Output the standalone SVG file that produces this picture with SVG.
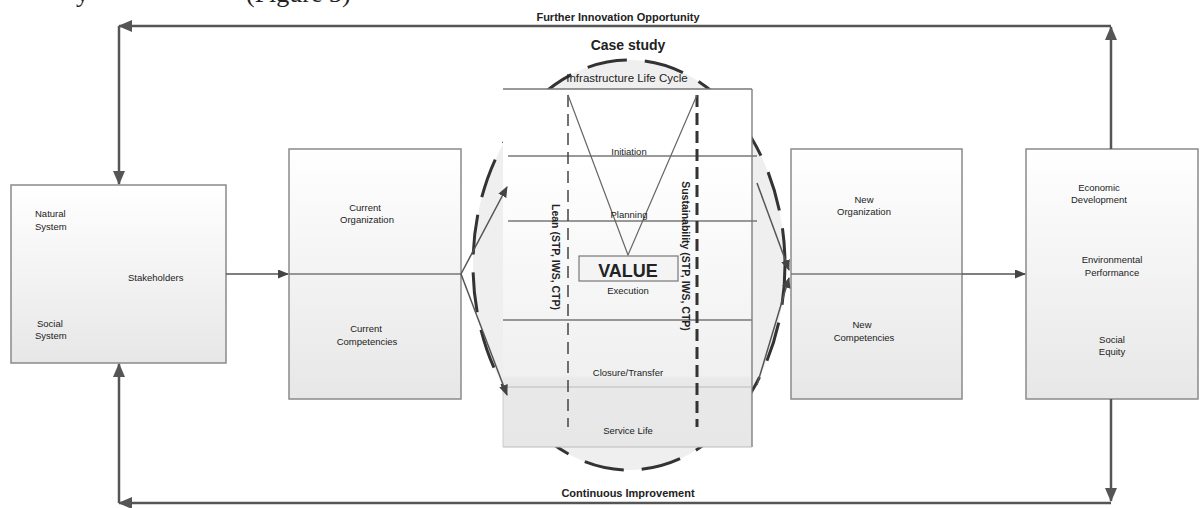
<svg xmlns="http://www.w3.org/2000/svg" width="1203" height="508" viewBox="0 0 1203 508">
<style>
.lbl{font-family:"Liberation Sans",Arial,sans-serif;font-size:9.5px;fill:#222}
.c{text-anchor:middle}
.bold{font-weight:bold}
.box{stroke:#8a8a8a;stroke-width:1.5;fill:url(#g)}
.con{stroke:#555;stroke-width:2.5;fill:none}
.thin{stroke:#555;stroke-width:1.5;fill:none}
.div{stroke:#777;stroke-width:1.3}
.page{font-family:"Liberation Serif",serif;font-size:26px;fill:#222}
</style>
<defs>
<linearGradient id="g" x1="0" y1="0" x2="0" y2="1">
<stop offset="0" stop-color="#ffffff"/><stop offset="0.5" stop-color="#f3f3f3"/><stop offset="1" stop-color="#e7e7e7"/>
</linearGradient>
<linearGradient id="g2" x1="0" y1="0" x2="0" y2="1">
<stop offset="0" stop-color="#ffffff"/><stop offset="0.2" stop-color="#ffffff"/><stop offset="0.8" stop-color="#f0f0f0"/><stop offset="0.81" stop-color="#e9e9e9"/><stop offset="1" stop-color="#e7e7e7"/>
</linearGradient>
<marker id="a" markerUnits="userSpaceOnUse" markerWidth="14" markerHeight="12" refX="13" refY="6" orient="auto">
<path d="M0,0 L14,6 L0,12 z" fill="#555"/>
</marker>
<marker id="as" markerUnits="userSpaceOnUse" markerWidth="11" markerHeight="9" refX="10" refY="4.5" orient="auto">
<path d="M0,0 L11,4.5 L0,9 z" fill="#444"/>
</marker>
</defs>
<rect width="1203" height="508" fill="#ffffff"/>
<text x="76" y="2" class="page">y</text>
<text x="246" y="2" class="page">(Figure 3)</text>

<g id="lifecycle">
<ellipse cx="629" cy="265" rx="156" ry="205" fill="#efefef" stroke="#333" stroke-width="3" stroke-dasharray="40 18"/>
<rect x="503" y="89" width="249" height="358" fill="url(#g2)"/>
<line x1="503" y1="89" x2="752" y2="89" class="div"/>
<line x1="752" y1="89" x2="752" y2="447" class="div"/>
<line x1="508" y1="156" x2="757" y2="156" class="div"/>
<line x1="508" y1="221" x2="757" y2="221" class="div"/>
<line x1="503" y1="320" x2="752" y2="320" class="div"/>
<line x1="503" y1="387" x2="752" y2="387" stroke="#bbb" stroke-width="1"/>
<line x1="503" y1="447" x2="752" y2="447" stroke="#bbb" stroke-width="1.2"/>
<line x1="503" y1="387" x2="503" y2="447" stroke="#ccc" stroke-width="1"/>
<line x1="568" y1="95" x2="568" y2="427" stroke="#444" stroke-width="1.5" stroke-dasharray="12 7"/>
<line x1="697" y1="95" x2="697" y2="427" stroke="#333" stroke-width="3" stroke-dasharray="12 6"/>
<polyline points="568,95 628,255 697,95" fill="none" stroke="#666" stroke-width="1.2"/>
<rect x="579" y="256" width="99" height="25" fill="#f4f4f4" stroke="#777" stroke-width="1.2"/>
<text x="628" y="50" class="lbl c bold" style="font-size:14px">Case study</text>
<text x="627" y="82" class="lbl c" style="font-size:11.5px">Infrastructure Life Cycle</text>
<text x="629" y="155" class="lbl c">Initiation</text>
<text x="629" y="218" class="lbl c">Planning</text>
<text x="628" y="277" class="lbl c bold" style="font-size:18px">VALUE</text>
<text x="628" y="294" class="lbl c">Execution</text>
<text x="628" y="376" class="lbl c">Closure/Transfer</text>
<text x="628" y="434" class="lbl c">Service Life</text>
<text transform="translate(552,257) rotate(90)" class="lbl c bold" style="font-size:10.5px">Lean (STP, IWS, CTP)</text>
<text transform="translate(682,256) rotate(90)" class="lbl c bold" style="font-size:10.5px">Sustainability (STP, IWS, CTP)</text>
</g>

<g id="stakeholders">
<rect x="11" y="185" width="215" height="178" class="box"/>
<text x="35" y="217" class="lbl">Natural</text>
<text x="35" y="230" class="lbl">System</text>
<text x="128" y="281" class="lbl">Stakeholders</text>
<text x="37" y="327" class="lbl">Social</text>
<text x="35" y="339" class="lbl">System</text>
</g>

<g id="current">
<rect x="289" y="149" width="172" height="250" class="box"/>
<line x1="289" y1="274" x2="461" y2="274" class="div"/>
<text x="365" y="211" class="lbl c">Current</text>
<text x="367" y="223" class="lbl c">Organization</text>
<text x="366" y="332" class="lbl c">Current</text>
<text x="367" y="345" class="lbl c">Competencies</text>
</g>

<g id="new">
<rect x="791" y="149" width="171" height="250" class="box"/>
<line x1="791" y1="274" x2="962" y2="274" class="div"/>
<text x="864" y="203" class="lbl c">New</text>
<text x="864" y="215" class="lbl c">Organization</text>
<text x="862" y="328" class="lbl c">New</text>
<text x="864" y="341" class="lbl c">Competencies</text>
</g>

<g id="outcomes">
<rect x="1026" y="149" width="172" height="250" class="box"/>
<text x="1099" y="191" class="lbl c">Economic</text>
<text x="1099" y="203" class="lbl c">Development</text>
<text x="1112" y="263" class="lbl c">Environmental</text>
<text x="1112" y="276" class="lbl c">Performance</text>
<text x="1112" y="343" class="lbl c">Social</text>
<text x="1112" y="355" class="lbl c">Equity</text>
</g>

<g id="connectors">
<line x1="1111" y1="149" x2="1111" y2="27" class="con" marker-end="url(#a)"/>
<line x1="1111" y1="26" x2="119" y2="26" class="con" marker-end="url(#a)"/>
<line x1="119" y1="26" x2="119" y2="184" class="con" marker-end="url(#a)"/>
<line x1="1111" y1="399" x2="1111" y2="501" class="con" marker-end="url(#a)"/>
<line x1="1111" y1="503" x2="119" y2="503" class="con" marker-end="url(#a)"/>
<line x1="119" y1="503" x2="119" y2="364" class="con" marker-end="url(#a)"/>
<line x1="226" y1="274" x2="288" y2="274" class="thin" marker-end="url(#as)"/>
<line x1="962" y1="274" x2="1025" y2="274" class="thin" marker-end="url(#as)"/>
<line x1="461" y1="274" x2="507" y2="187" class="thin" marker-end="url(#as)"/>
<line x1="461" y1="274" x2="507" y2="395" class="thin" marker-end="url(#as)"/>
<line x1="757" y1="183" x2="789" y2="270" class="thin" marker-end="url(#as)"/>
<line x1="757" y1="385" x2="789" y2="278" class="thin" marker-end="url(#as)"/>
<text x="618" y="21" class="lbl c bold" style="font-size:11px">Further Innovation Opportunity</text>
<text x="628" y="497" class="lbl c bold" style="font-size:11px">Continuous Improvement</text>
</g>
</svg>
